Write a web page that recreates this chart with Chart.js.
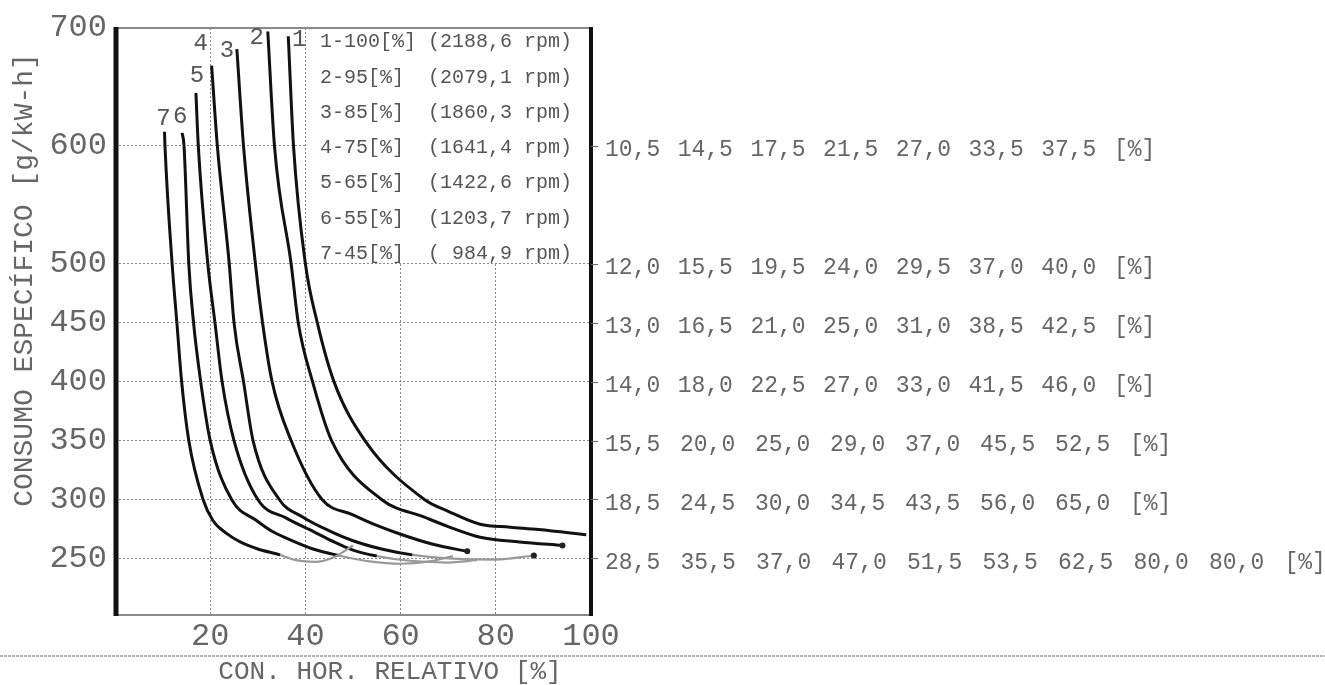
<!DOCTYPE html>
<html><head><meta charset="utf-8">
<script src="https://cdn.jsdelivr.net/npm/chart.js@4.4.1/dist/chart.umd.min.js"></script>
<style>html,body{margin:0;padding:0;background:#fff;}canvas{display:block;}</style>
</head><body>
<canvas id="c" width="1325" height="685"></canvas>
<script>
// Curves ordered left to right: 7,6,5,4,3,2,1
const curveNames = ['7', '6', '5', '4', '3', '2', '1'];
const legendLines = [
  '1-100[%] (2188,6 rpm)',
  '2-95[%]  (2079,1 rpm)',
  '3-85[%]  (1860,3 rpm)',
  '4-75[%]  (1641,4 rpm)',
  '5-65[%]  (1422,6 rpm)',
  '6-55[%]  (1203,7 rpm)',
  '7-45[%]  ( 984,9 rpm)'
];
const gridLevels = [600, 500, 450, 400, 350, 300];
const xAt600 = [10.5, 14.5, 17.5, 21.5, 27.0, 33.5, 37.5];
const xAt500 = [12.0, 15.5, 19.5, 24.0, 29.5, 37.0, 40.0];
const xAt450 = [13.0, 16.5, 21.0, 25.0, 31.0, 38.5, 42.5];
const xAt400 = [14.0, 18.0, 22.5, 27.0, 33.0, 41.5, 46.0];
const xAt350 = [15.5, 20.0, 25.0, 29.0, 37.0, 45.5, 52.5];
const xAt300 = [18.5, 24.5, 30.0, 34.5, 43.5, 56.0, 65.0];
const xAt250 = [28.5, 35.5, 37.0, 47.0, 51.5, 53.5, 62.5, 80.0, 80.0];
// curve start (top) points
const topX = [10.4, 14.1, 17.0, 20.3, 25.6, 32.1, 36.4];
const topY = [612, 611, 645, 668, 682, 697, 693];
// curve tails below 300
const tail7X = [20.6, 23.5, 26.3, 30.0, 34.7, 38.0, 42.0, 46.0, 50.0];
const tail7Y = [282, 271, 264, 258, 253, 248.5, 247, 251, 261];
const tail6X = [29.8, 33.0, 36.1, 41.6, 47.0, 53.5, 60.0, 66.0, 71.0];
const tail6Y = [282, 273, 267, 258, 252.5, 247.5, 245.5, 247.5, 252];
const tail5X = [36.1, 41.6, 46.0, 50.0, 55.0, 62.0, 70.0, 76.0];
const tail5Y = [284, 273, 264, 257, 252, 248, 246.5, 248.5];
const tail4X = [39.5, 44.7, 50.0, 56.0, 62.5, 70.0, 80.0, 88.0];
const tail4Y = [285, 274, 265, 258, 253, 250, 249, 252.5];
const tail3X = [50.0, 55.0, 60.0, 66.8, 74.0];
const tail3Y = [287, 278, 270.5, 262, 256];
const tail2X = [65.0, 70.0, 76.7, 85.0, 94.0];
const tail2Y = [285, 277, 268, 264, 261];
const tail1X = [70.0, 76.7, 83.0, 89.0, 99.0];
const tail1Y = [290, 279, 276.5, 274.5, 270];
const xTicks = [20, 40, 60, 80, 100];
const yTicks = [250, 300, 350, 400, 450, 500, 600, 700];

const tableRows = [xAt600, xAt500, xAt450, xAt400, xAt350, xAt300];
const tailsX = [tail7X, tail6X, tail5X, tail4X, tail3X, tail2X, tail1X];
const tailsY = [tail7Y, tail6Y, tail5Y, tail4Y, tail3Y, tail2Y, tail1Y];
const endDot = [false, false, false, true, true, true, false];

const datasets = curveNames.map((name, i) => {
  const pts = [{x: topX[i], y: topY[i]}];
  gridLevels.forEach((lv, k) => pts.push({x: tableRows[k][i], y: lv}));
  tailsX[i].forEach((xv, k) => pts.push({x: xv, y: tailsY[i][k]}));
  const radii = pts.map((p, k) => (endDot[i] && k === pts.length - 1) ? 3 : 0);
  return {
    label: name,
    data: pts,
    borderColor: '#111',
    borderWidth: 3,
    pointRadius: radii,
    pointBackgroundColor: '#222',
    pointBorderWidth: 0,
    cubicInterpolationMode: 'monotone',
    fill: false,
    segment: {
      borderColor: c => (c.p0.parsed.y < 254.5 ? '#999' : '#111'),
      borderWidth: c => (c.p0.parsed.y < 254.5 ? 2.2 : 3)
    }
  };
});

const MONO = '"Liberation Mono", "DejaVu Sans Mono", monospace';
const fmt = v => v.toFixed(1).replace('.', ',');

const deco = {
  id: 'deco',
  beforeDatasetsDraw(chart) {
    const {ctx, chartArea: a, scales: {x, y}} = chart;
    ctx.save();
    ctx.fillStyle = '#fff';
    const bx = x.getPixelForValue(40) + 2;
    const by = y.getPixelForValue(500) - 1;
    ctx.fillRect(bx, a.top + 1, a.right - bx - 1, by - a.top - 1);
    ctx.restore();
  },
  afterDatasetsDraw(chart) {
    const {ctx, chartArea: a, scales: {x, y}} = chart;
    ctx.save();
    // borders
    ctx.strokeStyle = '#8a8a8a';
    ctx.lineWidth = 2;
    ctx.beginPath();
    ctx.moveTo(a.left, a.top); ctx.lineTo(a.right, a.top);
    ctx.moveTo(a.left, a.bottom); ctx.lineTo(a.right, a.bottom);
    ctx.stroke();
    ctx.strokeStyle = '#111';
    ctx.lineWidth = 5;
    ctx.beginPath(); ctx.moveTo(a.left + 1, a.top - 1); ctx.lineTo(a.left + 1, a.bottom + 1); ctx.stroke();
    ctx.lineWidth = 4;
    ctx.beginPath(); ctx.moveTo(a.right, a.top - 1); ctx.lineTo(a.right, a.bottom + 1); ctx.stroke();
    // small stubs on right border
    ctx.strokeStyle = '#666';
    ctx.lineWidth = 1;
    ctx.beginPath();
    [250, 300, 350, 400, 450, 500, 600].forEach(v => {
      const py = Math.round(y.getPixelForValue(v)) + 0.5;
      ctx.moveTo(a.right, py); ctx.lineTo(a.right + 7, py);
    });
    ctx.stroke();
    // curve labels
    const offs = [[-1, -13], [-2, -16], [1, -17], [-11, -22], [-10, 1], [-11, 6], [11, 3]];
    ctx.fillStyle = '#555';
    ctx.font = '24px ' + MONO;
    ctx.textAlign = 'center';
    ctx.textBaseline = 'middle';
    curveNames.forEach((n, i) => {
      const px = x.getPixelForValue(topX[i]) + offs[i][0];
      const py = y.getPixelForValue(topY[i]) + offs[i][1];
      ctx.fillText(n, px, py);
    });
    ctx.restore();
  },
  afterDraw(chart) {
    const {ctx, scales: {y}} = chart;
    ctx.save();
    // legend lines inside box
    ctx.fillStyle = '#555';
    ctx.font = '20px ' + MONO;
    ctx.textAlign = 'left';
    ctx.textBaseline = 'middle';
    legendLines.forEach((t, i) => ctx.fillText(t, 320, 42 + i * 35.3));
    // right-side value rows
    const rows = [...tableRows, xAt250];
    const levels = [...gridLevels, 250];
    const pitch = [72.7, 72.7, 72.7, 72.7, 75, 75, 75.5];
    ctx.font = '23px ' + MONO;
    ctx.fillStyle = '#666';
    rows.forEach((r, k) => {
      const py = y.getPixelForValue(levels[k]) + 4;
      const toks = r.map(fmt).concat(['[%]']);
      toks.forEach((t, j) => ctx.fillText(t, 605 + j * pitch[k], py));
    });
    // axis titles
    ctx.fillStyle = '#666';
    ctx.font = '26px ' + MONO;
    ctx.textAlign = 'center';
    ctx.fillText('CON. HOR. RELATIVO [%]', 390, 672);
    ctx.save();
    ctx.translate(25, 280);
    ctx.rotate(-Math.PI / 2);
    ctx.font = '28px ' + MONO;
    ctx.fillText('CONSUMO ESPECÍFICO [g/kW-h]', 0, 0);
    ctx.restore();
    // page line
    ctx.strokeStyle = '#999';
    ctx.lineWidth = 1.5;
    ctx.setLineDash([3, 1]);
    ctx.beginPath(); ctx.moveTo(0, 656); ctx.lineTo(1325, 656); ctx.stroke();
    ctx.restore();
  }
};

new Chart(document.getElementById('c'), {
  type: 'line',
  data: {datasets},
  options: {
    responsive: false,
    animation: false,
    devicePixelRatio: 1,
    layout: {padding: {left: 0, top: 28, right: 734, bottom: 0}},
    plugins: {legend: {display: false}, tooltip: {enabled: false}, title: {display: false}},
    scales: {
      x: {
        type: 'linear', min: 0, max: 100,
        afterBuildTicks: s => { s.ticks = xTicks.map(v => ({value: v})); },
        afterFit: s => { s.height = 70; },
        ticks: {autoSkip: false, maxRotation: 0, padding: 2, color: '#666', font: {family: MONO, size: 32}},
        grid: {drawTicks: false, color: c => (c.tick && c.tick.value === 100 ? 'rgba(0,0,0,0)' : '#888'), lineWidth: 1},
        border: {display: false, dash: [2, 2]}
      },
      y: {
        type: 'linear', min: 202, max: 700,
        afterBuildTicks: s => { s.ticks = yTicks.map(v => ({value: v})); },
        afterFit: s => { s.width = 115; },
        ticks: {autoSkip: false, padding: 8, color: '#666', font: {family: MONO, size: 32}},
        grid: {drawTicks: false, color: c => (c.tick && c.tick.value === 700 ? 'rgba(0,0,0,0)' : '#888'), lineWidth: 1},
        border: {display: false, dash: [2, 2]}
      }
    }
  },
  plugins: [deco]
});
</script>
</body></html>
